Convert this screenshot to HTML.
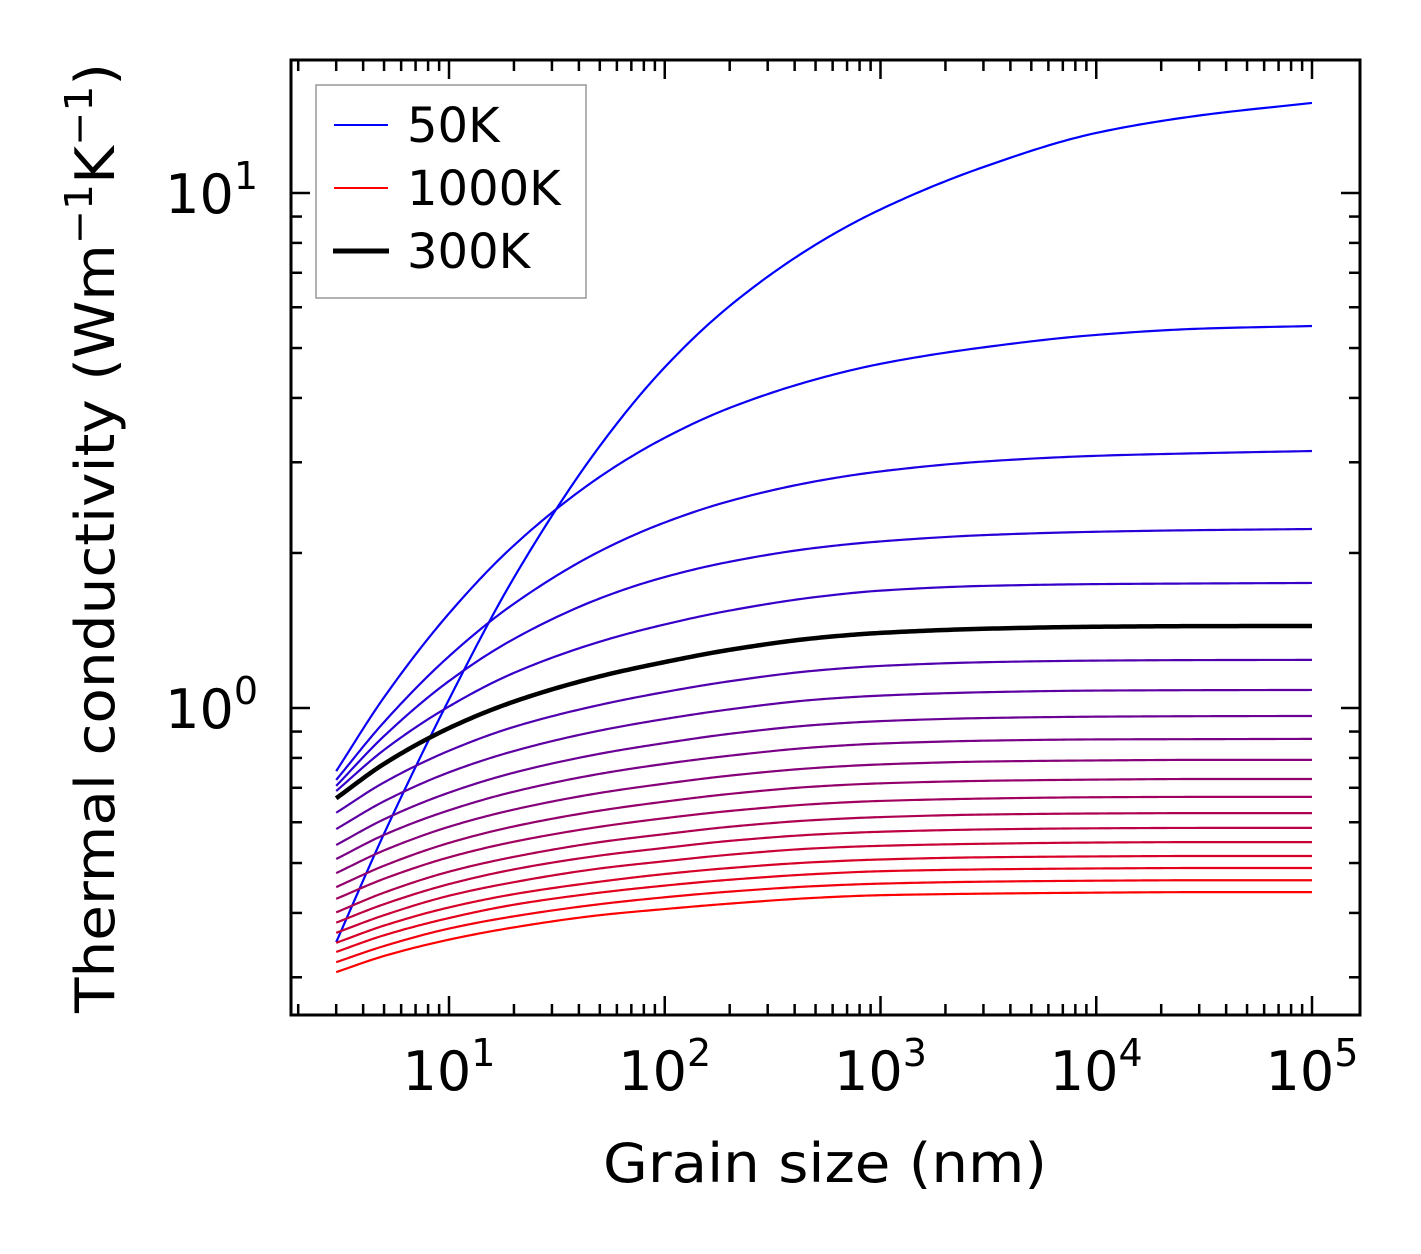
<!DOCTYPE html>
<html><head><meta charset="utf-8"><style>
html,body{margin:0;padding:0;background:#fff}
svg{display:block;font-family:"DejaVu Sans","Liberation Sans",sans-serif}
</style></head><body>
<svg id="chart" width="1421" height="1254" viewBox="0 0 1421 1254" xmlns="http://www.w3.org/2000/svg">
<rect x="0" y="0" width="1421" height="1254" fill="#fff"/>
<g id="curves"></g>
<g id="ticks"></g>
<rect x="291" y="60" width="1069" height="955" fill="none" stroke="#000" stroke-width="3"/>
<text x="825" y="1182" font-size="54" text-anchor="middle" textLength="444" lengthAdjust="spacingAndGlyphs">Grain size (nm)</text>
<text transform="translate(114,538) rotate(-90)" font-size="54" text-anchor="middle" textLength="950" lengthAdjust="spacingAndGlyphs">Thermal conductivity (Wm<tspan baseline-shift="super" font-size="38">−1</tspan>K<tspan baseline-shift="super" font-size="38">−1</tspan>)</text>
<g>
<rect x="316" y="85" width="270" height="213" fill="#fff" stroke="#999" stroke-width="1.5"/>
<line x1="334" y1="125" x2="388" y2="125" stroke="#0000ff" stroke-width="2"/>
<text x="407" y="142" font-size="48">50K</text>
<line x1="334" y1="188" x2="388" y2="188" stroke="#ff0000" stroke-width="2"/>
<text x="407" y="205" font-size="48">1000K</text>
<line x1="333" y1="251" x2="389" y2="251" stroke="#000" stroke-width="5"/>
<text x="407" y="268" font-size="48">300K</text>
</g>
</svg>
<script>
const grainSizes = [3, 5, 10, 20, 50, 100, 200, 500, 1000, 3000, 10000, 30000, 100000];
const temperatures = [50,100,150,200,250,300,350,400,450,500,550,600,650,700,750,800,850,900,950,1000];
const k50 = [0.351,0.570,1.039,1.791,3.226,4.588,6.035,7.936,9.291,11.23,13.08,14.14,14.96];
const k100 = [0.754,1.049,1.526,2.069,2.811,3.347,3.826,4.345,4.659,5.015,5.302,5.451,5.517];
const k150 = [0.725,0.939,1.260,1.594,2.015,2.292,2.523,2.755,2.880,3.010,3.088,3.124,3.155];
const k200 = [0.706,0.882,1.128,1.362,1.632,1.796,1.923,2.046,2.106,2.166,2.199,2.215,2.226];
const k250 = [0.690,0.829,1.007,1.170,1.345,1.453,1.546,1.642,1.690,1.726,1.740,1.745,1.749];
const k300 = [0.668,0.779,0.914,1.029,1.152,1.228,1.297,1.367,1.399,1.425,1.438,1.442,1.443];
const k350 = [0.626,0.717,0.826,0.919,1.014,1.074,1.127,1.182,1.207,1.227,1.236,1.239,1.240];
const k400 = [0.582,0.659,0.750,0.825,0.904,0.952,0.994,1.038,1.057,1.073,1.081,1.083,1.084];
const k450 = [0.542,0.608,0.685,0.749,0.815,0.855,0.891,0.927,0.943,0.956,0.962,0.964,0.965];
const k500 = [0.509,0.567,0.633,0.688,0.745,0.779,0.808,0.839,0.853,0.864,0.869,0.870,0.871];
const k550 = [0.478,0.529,0.588,0.635,0.684,0.713,0.739,0.765,0.777,0.787,0.791,0.793,0.793];
const k600 = [0.449,0.494,0.547,0.589,0.632,0.658,0.681,0.704,0.714,0.722,0.726,0.728,0.728];
const k650 = [0.426,0.466,0.513,0.550,0.588,0.611,0.631,0.651,0.660,0.667,0.671,0.672,0.672];
const k700 = [0.401,0.438,0.481,0.514,0.549,0.569,0.588,0.606,0.614,0.621,0.624,0.625,0.625];
const k750 = [0.383,0.416,0.455,0.486,0.517,0.535,0.552,0.568,0.575,0.581,0.584,0.585,0.585];
const k800 = [0.366,0.396,0.432,0.459,0.488,0.504,0.519,0.534,0.540,0.545,0.548,0.549,0.549];
const k850 = [0.350,0.378,0.410,0.435,0.460,0.476,0.489,0.502,0.508,0.513,0.515,0.516,0.516];
const k900 = [0.336,0.362,0.391,0.415,0.438,0.452,0.464,0.476,0.482,0.486,0.488,0.489,0.489];
const k950 = [0.321,0.345,0.373,0.394,0.416,0.429,0.440,0.451,0.456,0.460,0.462,0.463,0.463];
const k1000 = [0.307,0.330,0.355,0.375,0.396,0.407,0.417,0.428,0.433,0.436,0.438,0.439,0.439];
const series = [k50,k100,k150,k200,k250,k300,k350,k400,k450,k500,k550,k600,k650,k700,k750,k800,k850,k900,k950,k1000];
const xTickExps = [1,2,3,4,5];
const yTickExps = [0,1];

const NS = "http://www.w3.org/2000/svg";
const xPx = v => 449 + (Math.log10(v) - 1) * 215.75;
const yPx = v => 708 - Math.log10(v) * 515;
const X0 = 291, X1 = 1360, Y0 = 60, Y1 = 1015;

function mk(tag, attrs, parent){ const e = document.createElementNS(NS, tag); for (const k in attrs) e.setAttribute(k, attrs[k]); parent.appendChild(e); return e; }

// monotone cubic (Fritsch-Carlson) in log-log space
function curvePath(xs, ys){
  const lx = xs.map(Math.log10), ly = ys.map(Math.log10), n = lx.length;
  const d = [], m = [];
  for (let i=0;i<n-1;i++) d.push((ly[i+1]-ly[i])/(lx[i+1]-lx[i]));
  m[0]=d[0]; m[n-1]=d[n-2];
  for (let i=1;i<n-1;i++){
    if (d[i-1]*d[i] <= 0) { m[i]=0; continue; }
    const h0 = lx[i]-lx[i-1], h1 = lx[i+1]-lx[i];
    const w1 = 2*h1+h0, w2 = h1+2*h0;
    m[i] = (w1+w2)/(w1/d[i-1]+w2/d[i]);
  }
  let p = "";
  for (let i=0;i<n-1;i++){
    const h = lx[i+1]-lx[i];
    for (let s=0;s<=24;s++){
      if (i>0 && s===0) continue;
      const t=s/24, t2=t*t, t3=t2*t;
      const v = (2*t3-3*t2+1)*ly[i] + (t3-2*t2+t)*h*m[i] + (-2*t3+3*t2)*ly[i+1] + (t3-t2)*h*m[i+1];
      const xv = Math.pow(10, lx[i]+t*h), yv = Math.pow(10, v);
      p += (p ? "L" : "M") + xPx(xv).toFixed(2) + "," + yPx(yv).toFixed(2);
    }
  }
  return p;
}

const cg = document.getElementById("curves");
series.forEach((s, i) => {
  const t = i/(series.length-1);
  const col = `rgb(${Math.round(255*t)},0,${Math.round(255*(1-t))})`;
  const el = mk("path", {d: curvePath(grainSizes, s), fill:"none", stroke: col, "stroke-width": 2.2}, cg);
  
  
});
const blk = mk("path", {d: curvePath(grainSizes, k300), fill:"none", stroke:"#000", "stroke-width": 4.5}, cg);



const tg = document.getElementById("ticks");
for (let e=0;e<=5;e++){
  for (let m=1;m<=9;m++){
    const v = m*Math.pow(10,e), x = xPx(v);
    if (x < X0+1 || x > X1-1) continue;
    const L = m===1 ? 19 : 11;
    const a = mk("line",{x1:x,y1:Y1,x2:x,y2:Y1-L,stroke:"#000","stroke-width":2.5},tg);
    
    
    const b = mk("line",{x1:x,y1:Y0,x2:x,y2:Y0+L,stroke:"#000","stroke-width":2.5},tg);
    
    
  }
}
xTickExps.forEach(e => {
  const x = xPx(Math.pow(10,e));
  const t = mk("text",{x:x,y:1090,"font-size":54,"text-anchor":"middle"},tg);
  
  
  t.innerHTML = `10<tspan font-size="38" dy="-24">${e}</tspan>`;
});
for (let e=-1;e<=1;e++){
  for (let m=1;m<=9;m++){
    const v = m*Math.pow(10,e), y = yPx(v);
    if (y < Y0+1 || y > Y1-1) continue;
    const L = m===1 ? 19 : 11;
    const a = mk("line",{x1:X0,y1:y,x2:X0+L,y2:y,stroke:"#000","stroke-width":2.5},tg);
    
    
    const b = mk("line",{x1:X1,y1:y,x2:X1-L,y2:y,stroke:"#000","stroke-width":2.5},tg);
    
    
  }
}
yTickExps.forEach(e => {
  const y = yPx(Math.pow(10,e));
  const t = mk("text",{x:258,y:y+20,"font-size":54,"text-anchor":"end"},tg);
  
  
  t.innerHTML = `10<tspan font-size="38" dy="-24">${e}</tspan>`;
});
</script>
</body></html>
